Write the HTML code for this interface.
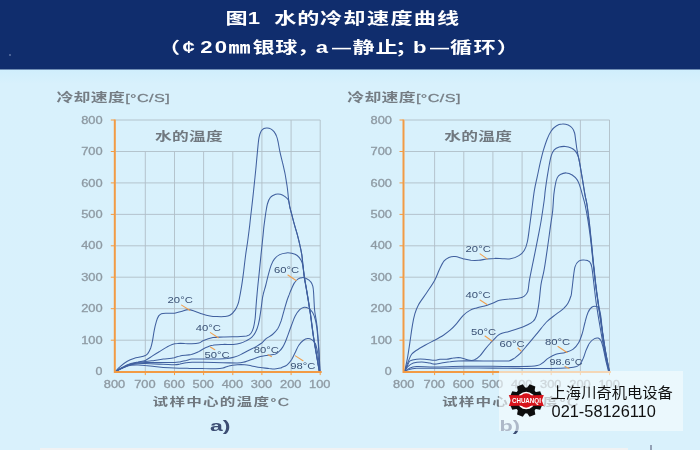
<!DOCTYPE html>
<html lang="zh"><head><meta charset="utf-8"><title>图1 水的冷却速度曲线</title>
<style>
html,body{margin:0;padding:0;}
body{width:700px;height:450px;overflow:hidden;background:linear-gradient(to bottom,#cfeefc 69px,#d8f1fc 84px,#d9f1fc 100%);position:relative;font-family:"Liberation Sans","Noto Sans CJK SC",sans-serif;}
svg{position:absolute;left:0;top:0;display:block;}
text{font-family:"Liberation Sans","Noto Sans CJK SC",sans-serif;}
.hdr{position:absolute;left:0;top:0;width:700px;height:68.6px;background:#102d6d;}
.hdrfade{position:absolute;left:0;top:68.5px;width:700px;height:1.5px;background:linear-gradient(#102d6d,#cfeefc);}
.strip{position:absolute;left:40px;top:448px;width:588px;height:2px;background:#f1f2f3;}
.mark{position:absolute;left:650px;top:445.4px;width:1.7px;height:5px;background:#93a1b6;filter:blur(0.3px);}
.dot{position:absolute;left:9.3px;top:54.4px;width:1.6px;height:1.6px;border-radius:1px;background:#5d73a3;}
.wm{position:absolute;left:499px;top:370.5px;width:184px;height:60px;background:rgba(246,251,254,0.62);}
</style></head><body>
<div class="hdr"></div><div class="hdrfade"></div>
<svg id="chart" width="700" height="450" viewBox="0 0 700 450">
<g id="hdrtext" fill="#ffffff" font-weight="700" style="filter:blur(0.3px)">
<text text-anchor="middle" transform="scale(1.380,1)" x="171.45 183.91 192.75 206.67 223.41 239.86 256.81 273.99 290.94 307.83 324.71" y="24.0" font-size="16.0" >图1 水的冷却速度曲线</text>
<text text-anchor="middle" transform="scale(1.380,1)" x="122.43 136.63 149.57 160.07 173.62 191.05 207.46 223.15 233.19 247.46 263.44 280.18 294.35 304.13 318.41 334.09 351.09 367.93" y="53.3" font-size="16.0" >（¢20㎜银球，a<tspan font-size="13.8" dy="-0.7">—</tspan><tspan dy="0.7">静止；b</tspan><tspan font-size="13.8" dy="-0.7">—</tspan><tspan dy="0.7">循环）</tspan></text>
</g>
<g id="blurred" style="filter:blur(0.35px)">
<g stroke="#b0bec7" stroke-width="0.9" fill="none">
<path d="M115.3 340.2 H320.2"/>
<path d="M115.3 308.7 H320.2"/>
<path d="M115.3 277.2 H320.2"/>
<path d="M115.3 245.8 H320.2"/>
<path d="M115.3 214.4 H320.2"/>
<path d="M115.3 182.9 H320.2"/>
<path d="M115.3 151.5 H320.2"/>
<path d="M115.3 120.0 H320.2"/>
<path d="M145.3 151.5 V372.6"/>
<path d="M174.5 151.5 V372.6"/>
<path d="M203.6 151.5 V372.6"/>
<path d="M232.8 151.5 V372.6"/>
<path d="M261.9 120.0 V372.6"/>
<path d="M291.1 120.0 V372.6"/>
<path d="M320.2 120.0 V372.6"/>
<path d="M404.6 340.2 H609.5"/>
<path d="M404.6 308.7 H609.5"/>
<path d="M404.6 277.2 H609.5"/>
<path d="M404.6 245.8 H609.5"/>
<path d="M404.6 214.4 H609.5"/>
<path d="M404.6 182.9 H609.5"/>
<path d="M404.6 151.5 H609.5"/>
<path d="M404.6 120.0 H609.5"/>
<path d="M434.6 151.5 V372.6"/>
<path d="M463.8 151.5 V372.6"/>
<path d="M492.9 151.5 V372.6"/>
<path d="M522.1 151.5 V372.6"/>
<path d="M551.2 120.0 V372.6"/>
<path d="M580.4 120.0 V372.6"/>
<path d="M609.5 120.0 V372.6"/>
</g>
<g fill="#757d84" font-weight="700">
<text transform="translate(56.4,101.9) scale(1.380,1)" font-size="12.2" textLength="82.1" lengthAdjust="spacing" >冷却速度<tspan font-weight="400" font-size="11.8" stroke="#757d84" stroke-width="0.25">[°C/S]</tspan></text>
<text transform="translate(347.2,101.9) scale(1.380,1)" font-size="12.2" textLength="82.1" lengthAdjust="spacing" >冷却速度<tspan font-weight="400" font-size="11.8" stroke="#757d84" stroke-width="0.25">[°C/S]</tspan></text>
</g>
<g fill="#70787f" font-weight="700">
<text transform="translate(154.9,140.6) scale(1.380,1)" font-size="12.1" textLength="49.1" lengthAdjust="spacing" >水的温度</text>
<text transform="translate(444.2,140.6) scale(1.380,1)" font-size="12.1" textLength="49.1" lengthAdjust="spacing" >水的温度</text>
<text transform="translate(152.6,405.6) scale(1.380,1)" font-size="11.3" textLength="98.8" lengthAdjust="spacing" >试样中心的温度<tspan font-weight="400" stroke="#757d84" stroke-width="0.25">°C</tspan></text>
<text transform="translate(441.9,405.6) scale(1.380,1)" font-size="11.3" textLength="98.8" lengthAdjust="spacing" >试样中心的温度<tspan font-weight="400" stroke="#757d84" stroke-width="0.25">°C</tspan></text>
</g>
<g fill="#3c4d73" font-weight="700">
<text x="210.0" y="430.5" font-size="15.5" textLength="20.5" lengthAdjust="spacingAndGlyphs" >a)</text>
<text x="499.5" y="430.5" font-size="15.5" textLength="20.5" lengthAdjust="spacingAndGlyphs" >b)</text>
</g>
<g fill="#8e9aa3" stroke="#8e9aa3" stroke-width="0.3">
<text x="95.5" y="375.2" font-size="10.0" textLength="6.9" lengthAdjust="spacingAndGlyphs" >0</text>
<text x="81.2" y="343.8" font-size="10.0" textLength="21.4" lengthAdjust="spacingAndGlyphs" >100</text>
<text x="81.2" y="312.3" font-size="10.0" textLength="21.4" lengthAdjust="spacingAndGlyphs" >200</text>
<text x="81.2" y="280.9" font-size="10.0" textLength="21.4" lengthAdjust="spacingAndGlyphs" >300</text>
<text x="81.2" y="249.4" font-size="10.0" textLength="21.4" lengthAdjust="spacingAndGlyphs" >400</text>
<text x="81.2" y="218.0" font-size="10.0" textLength="21.4" lengthAdjust="spacingAndGlyphs" >500</text>
<text x="81.2" y="186.5" font-size="10.0" textLength="21.4" lengthAdjust="spacingAndGlyphs" >600</text>
<text x="81.2" y="155.1" font-size="10.0" textLength="21.4" lengthAdjust="spacingAndGlyphs" >700</text>
<text x="81.2" y="123.6" font-size="10.0" textLength="21.4" lengthAdjust="spacingAndGlyphs" >800</text>
<text x="103.8" y="387.9" font-size="10.0" textLength="21.4" lengthAdjust="spacingAndGlyphs" >800</text>
<text x="134.2" y="387.9" font-size="10.0" textLength="21.4" lengthAdjust="spacingAndGlyphs" >700</text>
<text x="163.4" y="387.9" font-size="10.0" textLength="21.4" lengthAdjust="spacingAndGlyphs" >600</text>
<text x="192.5" y="387.9" font-size="10.0" textLength="21.4" lengthAdjust="spacingAndGlyphs" >500</text>
<text x="221.7" y="387.9" font-size="10.0" textLength="21.4" lengthAdjust="spacingAndGlyphs" >400</text>
<text x="250.8" y="387.9" font-size="10.0" textLength="21.4" lengthAdjust="spacingAndGlyphs" >300</text>
<text x="280.0" y="387.9" font-size="10.0" textLength="21.4" lengthAdjust="spacingAndGlyphs" >200</text>
<text x="309.1" y="387.9" font-size="10.0" textLength="21.4" lengthAdjust="spacingAndGlyphs" >100</text>
<text x="384.8" y="375.2" font-size="10.0" textLength="6.9" lengthAdjust="spacingAndGlyphs" >0</text>
<text x="370.5" y="343.8" font-size="10.0" textLength="21.4" lengthAdjust="spacingAndGlyphs" >100</text>
<text x="370.5" y="312.3" font-size="10.0" textLength="21.4" lengthAdjust="spacingAndGlyphs" >200</text>
<text x="370.5" y="280.9" font-size="10.0" textLength="21.4" lengthAdjust="spacingAndGlyphs" >300</text>
<text x="370.5" y="249.4" font-size="10.0" textLength="21.4" lengthAdjust="spacingAndGlyphs" >400</text>
<text x="370.5" y="218.0" font-size="10.0" textLength="21.4" lengthAdjust="spacingAndGlyphs" >500</text>
<text x="370.5" y="186.5" font-size="10.0" textLength="21.4" lengthAdjust="spacingAndGlyphs" >600</text>
<text x="370.5" y="155.1" font-size="10.0" textLength="21.4" lengthAdjust="spacingAndGlyphs" >700</text>
<text x="370.5" y="123.6" font-size="10.0" textLength="21.4" lengthAdjust="spacingAndGlyphs" >800</text>
<text x="393.1" y="387.9" font-size="10.0" textLength="21.4" lengthAdjust="spacingAndGlyphs" >800</text>
<text x="423.5" y="387.9" font-size="10.0" textLength="21.4" lengthAdjust="spacingAndGlyphs" >700</text>
<text x="452.7" y="387.9" font-size="10.0" textLength="21.4" lengthAdjust="spacingAndGlyphs" >600</text>
<text x="481.8" y="387.9" font-size="10.0" textLength="21.4" lengthAdjust="spacingAndGlyphs" >500</text>
<text x="511.0" y="387.9" font-size="10.0" textLength="21.4" lengthAdjust="spacingAndGlyphs" >400</text>
<text x="540.1" y="387.9" font-size="10.0" textLength="21.4" lengthAdjust="spacingAndGlyphs" >300</text>
<text x="569.3" y="387.9" font-size="10.0" textLength="21.4" lengthAdjust="spacingAndGlyphs" >200</text>
<text x="598.4" y="387.9" font-size="10.0" textLength="21.4" lengthAdjust="spacingAndGlyphs" >100</text>
</g>
<g stroke="#40609f" stroke-width="1.05" fill="none" stroke-linejoin="round" stroke-linecap="round">
<path d="M115.3 371.6C116.1 370.8 118.1 368.3 120.1 366.6C122.1 364.8 124.9 362.6 127.3 361.2C129.7 359.8 132.4 358.9 134.5 358.2C136.6 357.6 138.1 357.6 139.9 357.1C141.7 356.7 144.0 356.2 145.3 355.6C146.6 354.9 147.0 354.6 147.9 353.4C148.8 352.1 149.9 350.1 150.7 348.0C151.4 345.9 151.9 343.8 152.5 340.8C153.1 337.8 153.6 333.3 154.3 330.1C154.9 326.8 155.7 323.6 156.4 321.3C157.1 318.9 157.9 317.2 158.7 315.9C159.6 314.7 160.0 314.2 161.4 313.7C162.7 313.3 164.7 313.3 166.9 313.2C169.1 313.1 172.1 313.5 174.5 313.2C176.9 312.9 178.9 312.1 181.2 311.5C183.5 310.9 185.8 309.6 188.2 309.6C190.6 309.6 193.1 310.8 195.5 311.5C197.8 312.3 200.0 313.3 202.4 314.0C204.9 314.8 207.6 315.5 210.0 315.9C212.5 316.4 214.7 316.5 217.0 316.6C219.4 316.7 221.9 316.8 224.0 316.6C226.2 316.4 228.0 316.5 229.9 315.3C231.8 314.2 234.1 311.5 235.4 309.6C236.8 307.8 237.4 305.7 238.0 304.0C238.7 302.3 238.6 302.1 239.2 299.3C239.8 296.4 240.8 291.2 241.5 286.7C242.3 282.1 242.9 277.1 243.6 271.9C244.2 266.7 244.9 260.6 245.6 255.2C246.3 249.8 247.3 244.5 247.9 239.5C248.6 234.5 249.1 230.1 249.7 225.4C250.2 220.6 250.7 215.9 251.3 211.2C251.8 206.5 252.4 201.8 252.9 197.1C253.4 192.3 253.9 187.9 254.4 182.9C254.9 177.9 255.5 172.7 256.0 167.2C256.5 161.7 257.1 154.8 257.6 149.9C258.1 145.0 258.4 140.8 259.0 137.6C259.6 134.5 260.4 132.5 261.2 131.0C262.1 129.5 262.9 129.0 263.9 128.5C264.9 128.0 266.1 127.9 267.2 128.0C268.4 128.1 269.5 128.3 270.7 128.9C271.8 129.5 273.0 130.4 274.0 131.6C275.0 132.9 275.9 134.5 276.6 136.4C277.4 138.2 277.7 140.3 278.3 143.0C278.8 145.6 279.3 148.9 280.0 152.2C280.7 155.6 281.8 159.4 282.6 162.9C283.5 166.4 284.3 170.4 285.0 173.5C285.6 176.5 285.9 178.7 286.3 181.3C286.8 183.9 287.2 186.3 287.5 189.2C287.9 192.1 288.1 195.7 288.5 198.6C288.8 201.5 289.1 203.8 289.7 206.5C290.2 209.2 290.9 211.4 291.8 214.7C292.6 218.0 293.9 222.8 294.9 226.3C295.8 229.8 296.7 232.3 297.5 235.4C298.3 238.5 299.1 241.6 299.8 244.9C300.5 248.1 301.3 251.6 301.8 254.9C302.3 258.3 302.4 261.3 302.9 265.0C303.3 268.7 303.8 273.0 304.4 277.2C305.0 281.5 306.0 286.1 306.7 290.6C307.4 295.0 308.2 299.9 308.9 304.0C309.5 308.1 309.9 309.7 310.6 315.0C311.3 320.2 312.4 329.0 313.3 335.4C314.2 341.8 315.3 347.3 316.3 353.4C317.3 359.4 318.8 368.6 319.3 371.6"/>
<path d="M115.3 371.6C116.7 370.8 121.1 367.9 123.7 366.6C126.3 365.2 128.5 364.4 130.9 363.6C133.3 362.8 135.7 362.4 138.1 361.9C140.5 361.3 142.9 361.4 145.3 360.4C147.7 359.4 150.1 357.4 152.5 355.9C154.8 354.4 157.2 352.9 159.6 351.5C162.0 350.0 164.7 348.3 166.8 347.1C168.9 345.9 170.4 345.0 172.2 344.4C174.0 343.8 175.4 343.6 177.5 343.5C179.6 343.3 182.3 343.4 184.7 343.5C187.1 343.5 189.4 343.9 191.8 343.8C194.2 343.8 197.0 343.7 198.9 343.1C200.9 342.6 201.3 341.4 203.6 340.5C205.9 339.5 209.7 338.2 212.9 337.6C216.2 337.1 219.1 337.2 223.2 337.0C227.2 336.8 233.6 336.8 237.5 336.7C241.3 336.5 244.2 336.6 246.5 336.1C248.7 335.5 249.7 335.0 250.8 333.5C252.0 332.1 252.8 330.0 253.5 327.6C254.2 325.1 254.6 322.4 255.1 318.8C255.5 315.1 255.8 309.5 256.1 305.6C256.4 301.6 256.5 300.0 257.0 294.9C257.4 289.7 258.3 281.5 259.0 274.9C259.7 268.2 260.3 261.6 261.0 254.9C261.7 248.3 262.6 239.6 263.1 234.9C263.6 230.2 263.5 230.2 263.9 226.6C264.4 223.0 265.1 217.2 265.7 213.4C266.3 209.6 266.7 206.6 267.4 204.0C268.2 201.3 269.0 199.0 270.4 197.4C271.7 195.8 274.0 194.9 275.7 194.3C277.4 193.8 278.8 193.9 280.4 194.3C282.0 194.7 283.7 195.8 285.1 196.7C286.4 197.7 287.7 198.5 288.5 200.2C289.3 201.9 289.3 204.5 289.8 206.9C290.4 209.4 291.0 211.7 291.9 215.0C292.7 218.3 294.0 223.2 295.0 226.6C296.0 230.1 296.8 232.6 297.6 235.7C298.4 238.8 299.2 241.9 299.9 245.2C300.7 248.4 301.4 251.9 301.9 255.2C302.4 258.6 302.6 261.6 303.0 265.3C303.4 269.0 303.9 273.3 304.5 277.6C305.2 281.8 306.1 286.4 306.8 290.9C307.6 295.4 308.3 300.2 309.0 304.3C309.6 308.4 310.0 310.1 310.7 315.3C311.5 320.5 312.5 329.4 313.4 335.7C314.4 342.1 315.4 347.7 316.4 353.7C317.4 359.6 318.9 368.6 319.4 371.6"/>
<path d="M115.3 371.6C116.7 370.8 121.1 368.1 123.7 366.9C126.3 365.6 128.5 364.8 130.9 364.1C133.3 363.3 135.7 362.9 138.1 362.5C140.5 362.1 142.6 362.0 145.3 361.6C148.0 361.3 151.4 360.8 154.4 360.4C157.3 360.0 159.9 359.6 163.2 359.1C166.5 358.7 171.5 358.3 174.3 357.8C177.1 357.2 177.2 356.4 180.0 355.9C182.9 355.3 188.3 355.2 191.4 354.5C194.5 353.7 196.6 352.6 198.7 351.6C200.7 350.6 201.9 349.6 203.6 348.7C205.3 347.9 207.1 347.2 208.6 346.6C210.2 346.0 210.5 345.5 212.9 345.2C215.3 344.8 219.7 344.6 223.0 344.4C226.4 344.3 230.2 344.6 233.1 344.4C236.0 344.2 238.1 343.9 240.2 343.3C242.4 342.7 244.1 341.9 246.0 340.9C247.9 339.9 250.1 338.8 251.7 337.3C253.3 335.9 254.4 334.4 255.5 332.3C256.6 330.1 257.6 327.6 258.4 324.4C259.2 321.3 259.9 317.1 260.4 313.4C261.0 309.7 261.5 305.5 261.9 302.4C262.3 299.3 262.4 297.7 263.1 294.9C263.7 292.0 264.8 288.9 265.7 285.5C266.6 282.2 267.4 278.2 268.3 274.9C269.2 271.5 270.0 268.3 271.0 265.6C272.0 262.9 273.0 260.7 274.5 258.9C275.9 257.0 277.7 255.6 279.7 254.6C281.7 253.6 284.4 253.1 286.4 252.9C288.4 252.7 290.0 252.9 291.8 253.3C293.6 253.8 295.7 254.4 297.2 255.5C298.8 256.7 300.2 258.6 301.1 260.3C302.0 261.9 302.3 262.4 302.8 265.3C303.3 268.2 303.7 273.3 304.3 277.6C304.9 281.8 305.9 286.4 306.6 290.9C307.4 295.4 308.1 300.2 308.8 304.3C309.4 308.4 309.8 310.1 310.5 315.3C311.2 320.5 312.3 329.4 313.2 335.7C314.2 342.1 315.2 347.7 316.2 353.7C317.2 359.6 318.8 368.6 319.3 371.6"/>
<path d="M115.3 371.6C116.7 370.9 121.1 368.4 123.7 367.2C126.3 366.0 128.5 365.2 130.9 364.5C133.3 363.8 135.7 363.4 138.1 363.1C140.5 362.8 141.7 362.6 145.3 362.5C148.9 362.4 155.1 362.5 159.9 362.5C164.7 362.5 171.0 362.6 174.3 362.5C177.7 362.4 178.0 362.2 180.0 361.9C182.0 361.5 184.5 360.8 186.4 360.4C188.4 359.9 189.7 359.4 191.8 359.1C193.9 358.9 195.9 359.0 198.9 359.0C202.0 358.9 207.2 358.9 210.0 359.0C212.8 359.0 213.0 359.1 215.9 359.0C218.7 358.9 224.2 358.8 227.3 358.5C230.5 358.1 232.2 357.7 234.5 357.0C236.9 356.3 239.3 355.3 241.7 354.1C244.1 353.0 246.5 351.5 248.9 350.2C251.3 349.0 253.9 347.8 256.1 346.6C258.2 345.4 260.1 344.3 261.8 343.0C263.4 341.7 264.3 340.2 266.1 338.7C267.9 337.3 270.6 336.1 272.5 334.5C274.5 332.8 276.2 331.1 277.7 328.8C279.1 326.5 280.1 323.7 281.2 320.7C282.2 317.6 283.1 313.6 284.1 310.3C285.1 306.9 286.2 303.1 287.0 300.5C287.8 298.0 288.3 296.9 289.1 294.9C289.8 292.8 290.9 290.2 291.8 288.3C292.7 286.3 293.4 284.4 294.4 282.9C295.5 281.4 296.5 280.0 297.8 279.1C299.1 278.2 301.0 277.6 302.4 277.6C303.9 277.5 305.3 278.1 306.7 278.8C308.1 279.5 309.6 280.4 310.6 281.7C311.6 282.9 312.3 284.2 312.8 286.1C313.3 287.9 313.4 289.8 313.6 292.8C313.8 295.8 314.0 300.8 314.2 304.0C314.4 307.2 314.3 308.1 314.8 311.8C315.3 315.6 316.5 321.2 317.1 326.6C317.7 332.0 318.1 338.4 318.6 344.4C319.0 350.3 319.4 357.6 319.6 362.2C319.9 366.7 320.0 370.0 320.1 371.6"/>
<path d="M115.3 371.6C116.7 370.9 121.1 368.5 123.7 367.4C126.3 366.2 128.5 365.4 130.9 364.8C133.3 364.2 135.7 363.9 138.1 363.7C140.5 363.5 141.1 363.5 145.3 363.6C149.5 363.7 158.3 364.1 163.2 364.3C168.1 364.5 171.7 364.9 174.5 364.8C177.3 364.8 178.1 364.4 180.0 364.1C182.0 363.7 184.2 363.1 186.1 362.8C188.1 362.5 189.0 362.4 192.0 362.3C194.9 362.2 198.4 362.3 203.6 362.3C208.8 362.4 217.4 362.6 223.0 362.7C228.7 362.8 234.1 363.1 237.5 363.0C240.8 362.9 241.2 362.8 243.1 362.3C245.0 361.9 246.9 361.1 248.9 360.4C250.8 359.8 252.7 359.1 254.6 358.5C256.5 357.8 258.4 357.1 260.3 356.6C262.2 356.1 264.2 355.9 266.1 355.6C268.0 355.3 270.2 355.0 271.8 354.7C273.4 354.5 274.4 354.7 275.6 354.1C276.8 353.6 277.9 352.7 279.1 351.5C280.3 350.3 281.7 348.7 282.7 347.1C283.8 345.4 284.5 343.8 285.4 341.7C286.3 339.6 287.0 337.4 288.1 334.6C289.1 331.8 290.5 327.9 291.7 324.8C292.9 321.7 293.8 318.5 295.2 315.9C296.5 313.4 298.2 311.1 299.7 309.6C301.2 308.2 302.7 307.6 304.2 307.3C305.7 307.1 307.2 307.6 308.6 308.4C309.9 309.2 311.3 310.5 312.5 312.3C313.6 314.2 314.5 316.5 315.3 319.5C316.1 322.4 316.6 326.0 317.1 330.1C317.6 334.3 318.0 339.6 318.3 344.4C318.7 349.1 319.0 354.1 319.2 358.6C319.4 363.2 319.7 369.4 319.8 371.6"/>
<path d="M115.3 371.6C116.7 370.9 121.1 368.6 123.7 367.5C126.3 366.5 128.5 365.7 130.9 365.3C133.3 364.9 135.7 365.0 138.1 365.0C140.5 365.0 142.6 365.1 145.3 365.4C148.0 365.6 151.4 366.3 154.4 366.6C157.3 367.0 159.9 367.3 163.2 367.5C166.5 367.7 169.9 367.9 174.3 368.0C178.8 368.2 185.2 368.3 190.0 368.4C194.9 368.5 199.3 368.4 203.6 368.5C207.9 368.5 212.6 368.8 215.9 368.8C219.1 368.7 220.9 368.5 223.0 368.0C225.2 367.5 226.4 366.4 228.8 365.9C231.2 365.3 234.8 364.9 237.5 364.7C240.1 364.6 242.2 364.6 244.6 364.7C246.9 364.9 249.1 365.4 251.7 365.9C254.3 366.4 257.5 367.2 260.3 367.6C263.2 368.0 266.5 368.2 268.9 368.5C271.3 368.7 272.8 369.0 274.7 368.9C276.7 368.9 279.3 368.4 280.4 368.1C281.6 367.9 280.7 368.1 281.8 367.5C282.9 367.0 285.5 366.2 287.2 364.8C288.8 363.5 290.3 361.6 291.7 359.5C293.0 357.4 294.0 354.8 295.2 352.4C296.4 350.0 297.4 347.2 298.8 345.2C300.1 343.3 301.7 341.6 303.2 340.5C304.7 339.4 306.2 338.7 307.7 338.6C309.2 338.5 310.8 339.1 312.1 339.9C313.4 340.7 314.4 341.6 315.3 343.5C316.2 345.4 316.8 348.4 317.4 351.5C318.0 354.6 318.5 358.8 318.9 362.2C319.2 365.5 319.6 370.0 319.8 371.6"/>
<path d="M404.6 371.6C405.1 369.4 406.5 363.4 407.4 358.4C408.3 353.4 409.2 347.2 410.0 341.7C410.8 336.2 411.6 330.0 412.4 325.4C413.2 320.7 413.9 317.1 414.9 313.7C415.9 310.3 416.5 308.4 418.4 304.9C420.3 301.5 423.8 297.0 426.5 293.0C429.2 288.9 432.5 284.4 434.6 280.5C436.7 276.6 437.8 273.0 439.3 269.7C440.9 266.4 442.5 262.9 444.1 260.9C445.7 258.9 447.1 258.2 448.9 257.4C450.8 256.7 452.8 256.4 455.1 256.6C457.5 256.8 460.4 258.1 463.0 258.7C465.6 259.3 468.2 260.0 470.9 260.3C473.5 260.5 476.1 260.5 478.8 260.3C481.4 260.1 484.0 259.3 486.6 259.0C489.2 258.7 491.9 258.4 494.5 258.4C497.1 258.3 499.7 258.6 502.4 258.7C505.0 258.8 507.7 259.3 510.4 258.8C513.2 258.3 516.6 257.0 518.9 255.6C521.2 254.3 522.8 252.8 524.2 250.5C525.6 248.2 526.5 245.9 527.3 242.0C528.2 238.2 528.8 232.6 529.5 227.3C530.2 222.1 530.9 216.7 531.7 210.6C532.5 204.5 533.4 196.5 534.3 190.9C535.2 185.3 536.2 181.6 537.2 176.9C538.2 172.3 539.2 167.3 540.2 162.9C541.2 158.6 542.1 154.9 543.2 150.9C544.4 147.0 545.9 142.3 547.2 139.0C548.5 135.6 549.7 133.2 551.2 131.0C552.7 128.8 554.3 127.1 556.2 126.0C558.0 124.8 560.3 124.2 562.3 124.1C564.3 123.9 566.5 124.4 568.2 125.0C569.8 125.7 571.2 126.7 572.2 128.0C573.3 129.3 574.0 130.8 574.6 133.0C575.2 135.2 575.3 138.1 575.8 141.1C576.2 144.1 576.5 147.3 577.2 150.9C577.8 154.6 578.8 158.3 579.7 162.9C580.5 167.6 581.4 173.6 582.3 178.9C583.2 184.2 584.1 190.5 584.9 194.9C585.7 199.2 586.2 200.1 586.9 204.9C587.7 209.7 588.5 217.0 589.3 223.8C590.1 230.6 590.9 238.5 591.6 245.8C592.4 253.1 592.9 260.0 593.8 267.8C594.6 275.7 595.5 284.1 596.7 293.0C597.9 301.9 599.4 311.8 600.8 321.3C602.2 330.7 603.7 341.2 605.1 349.6C606.5 358.0 608.5 367.9 609.2 371.6"/>
<path d="M404.6 371.6C405.2 369.9 407.0 364.5 408.2 361.7C409.4 358.8 410.2 356.2 411.6 354.3C413.0 352.4 414.4 351.7 416.6 350.2C418.8 348.7 422.0 346.9 425.0 345.2C428.0 343.5 431.5 341.8 434.6 340.2C437.7 338.5 440.8 336.8 443.4 335.2C445.9 333.5 447.9 332.1 450.1 330.2C452.3 328.3 454.4 326.1 456.6 323.6C458.8 321.1 461.1 317.5 463.3 315.3C465.5 313.1 467.7 311.6 469.9 310.4C472.1 309.1 474.4 308.6 476.6 307.9C478.8 307.2 481.6 306.6 483.3 306.2C485.0 305.8 484.9 305.9 486.6 305.4C488.2 304.9 491.0 303.9 493.2 303.0C495.4 302.2 497.0 300.9 499.6 300.2C502.2 299.5 505.8 299.3 509.0 299.0C512.1 298.6 515.8 298.7 518.3 298.3C520.8 297.9 522.4 297.5 524.0 296.4C525.6 295.3 526.8 294.5 527.7 291.7C528.7 288.9 528.5 285.3 529.5 279.8C530.5 274.3 532.3 265.8 533.7 258.8C535.1 251.8 536.7 244.2 537.9 237.9C539.1 231.6 540.0 227.3 541.1 221.0C542.1 214.8 543.5 205.2 544.2 200.2C544.9 195.2 544.7 194.8 545.2 190.9C545.7 187.0 546.5 181.2 547.2 176.9C547.9 172.6 548.6 168.5 549.2 165.0C549.9 161.5 550.4 158.5 551.2 155.9C552.0 153.4 552.9 151.4 554.2 149.9C555.5 148.5 557.4 147.6 559.2 147.0C561.0 146.5 563.2 146.3 565.2 146.4C567.2 146.6 569.5 147.2 571.2 148.0C572.9 148.7 574.1 149.6 575.2 150.9C576.3 152.3 577.3 154.0 578.1 156.2C578.8 158.3 579.1 160.1 579.8 164.0C580.6 168.0 581.7 174.5 582.6 179.8C583.5 185.0 584.4 191.2 585.2 195.5C586.0 199.8 586.5 200.7 587.2 205.5C588.0 210.4 588.8 217.6 589.6 224.4C590.3 231.2 591.1 239.1 591.9 246.4C592.6 253.8 593.2 260.6 594.1 268.4C594.9 276.3 595.8 284.7 597.0 293.6C598.2 302.5 599.7 312.5 601.1 321.9C602.5 331.3 604.0 341.9 605.4 350.2C606.8 358.5 608.7 368.0 609.4 371.6"/>
<path d="M404.6 371.6C405.1 370.6 406.7 367.1 407.6 365.3C408.5 363.5 408.5 361.9 410.0 360.9C411.5 359.9 414.1 359.5 416.6 359.2C419.1 358.9 422.0 359.0 425.0 359.2C428.0 359.4 432.1 360.3 434.6 360.3C437.1 360.3 437.9 359.4 439.9 359.2C441.9 359.0 444.3 359.4 446.6 359.2C448.8 359.0 451.3 358.3 453.3 358.1C455.2 357.8 456.6 357.5 458.3 357.5C459.9 357.6 461.4 357.9 463.3 358.4C465.2 358.9 468.0 360.1 469.9 360.3C471.9 360.6 473.3 360.4 474.9 359.6C476.6 358.9 478.2 357.6 479.9 355.9C481.6 354.1 483.4 351.3 485.0 349.3C486.7 347.2 488.6 345.0 490.0 343.5C491.3 341.9 491.6 341.7 493.2 340.2C494.8 338.6 497.0 335.7 499.6 334.3C502.2 332.8 505.8 332.4 509.0 331.4C512.1 330.5 515.2 329.7 518.3 328.6C521.4 327.5 525.2 326.1 527.7 324.8C530.3 323.5 532.0 322.5 533.4 321.0C534.9 319.6 535.4 318.3 536.2 316.2C537.0 314.2 537.6 311.5 538.1 308.7C538.6 305.9 538.9 303.4 539.4 299.3C539.9 295.1 540.3 288.9 541.1 283.9C541.9 279.0 543.2 275.3 544.2 269.4C545.3 263.4 546.3 255.7 547.4 248.3C548.5 241.0 549.7 231.6 550.6 225.4C551.5 219.1 552.1 215.7 552.7 210.6C553.2 205.5 553.4 199.1 553.8 194.9C554.3 190.6 554.7 187.7 555.3 184.9C555.8 182.1 556.4 179.6 557.2 177.9C558.0 176.1 558.7 175.3 560.3 174.5C561.8 173.7 564.2 172.8 566.2 172.9C568.2 173.0 570.4 173.9 572.2 175.0C574.1 176.2 575.9 178.1 577.2 179.9C578.5 181.7 578.9 183.4 579.8 185.9C580.7 188.4 581.6 191.7 582.4 194.9C583.3 198.0 584.1 200.6 585.1 204.9C586.0 209.2 587.0 214.4 588.0 220.6C589.0 226.9 590.1 235.1 591.0 242.7C591.9 250.3 592.5 257.9 593.5 266.2C594.4 274.6 595.5 283.8 596.7 293.0C597.9 302.1 599.4 311.8 600.8 321.3C602.2 330.7 603.7 341.2 605.1 349.6C606.6 358.0 608.7 367.9 609.4 371.6"/>
<path d="M404.6 371.6C405.1 370.8 406.2 368.3 407.6 366.9C409.1 365.5 410.9 363.9 413.3 363.1C415.7 362.3 418.9 362.0 421.7 362.0C424.5 362.0 427.8 362.8 429.9 363.1C432.1 363.5 432.7 364.1 434.6 364.1C436.5 364.1 439.0 363.5 441.6 363.1C444.2 362.7 447.3 362.0 450.1 361.7C452.9 361.3 452.7 361.0 458.3 360.9C463.8 360.8 476.4 360.9 483.3 360.9C490.2 360.9 495.3 360.9 499.6 360.9C503.9 360.9 506.5 361.4 509.0 360.9C511.5 360.4 512.7 359.3 514.6 358.1C516.4 356.8 518.0 355.6 520.2 353.4C522.4 351.1 524.9 348.0 527.7 344.7C530.6 341.4 534.1 337.1 537.2 333.3C540.4 329.5 543.4 325.1 546.5 322.0C549.7 318.8 553.1 316.6 555.9 314.4C558.7 312.1 561.4 310.6 563.5 308.7C565.5 306.8 566.9 305.2 568.1 303.0C569.4 300.8 570.4 297.7 571.1 295.5C571.7 293.3 571.3 294.5 571.9 289.8C572.6 285.1 573.7 272.0 574.9 267.2C576.1 262.4 577.6 262.1 579.2 260.9C580.8 259.7 582.7 259.8 584.5 260.0C586.2 260.1 588.5 260.7 589.7 261.9C590.9 263.1 591.1 263.5 591.8 267.2C592.5 270.9 593.2 278.1 593.9 283.9C594.6 289.8 595.1 295.1 596.1 302.4C597.2 309.7 598.7 319.2 600.2 327.6C601.6 336.0 603.3 345.4 604.8 352.7C606.3 360.1 608.5 368.5 609.2 371.6"/>
<path d="M404.6 371.6C405.4 371.1 407.1 369.3 409.1 368.5C411.1 367.6 412.4 366.9 416.6 366.6C420.9 366.4 426.7 367.0 434.6 367.0C442.5 366.9 454.1 366.4 463.8 366.3C473.5 366.2 483.2 366.3 492.9 366.3C502.6 366.4 514.7 366.7 522.1 366.6C529.5 366.5 533.8 366.3 537.2 365.6C540.7 365.0 540.9 364.1 542.8 362.8C544.6 361.5 546.2 359.5 548.4 358.1C550.6 356.7 553.1 355.2 555.9 354.3C558.7 353.4 562.5 353.2 565.3 352.4C568.2 351.6 570.6 351.0 572.9 349.4C575.1 347.8 577.1 345.5 578.6 342.8C580.2 340.1 581.2 336.8 582.3 333.3C583.4 329.9 584.1 325.4 585.1 322.0C586.0 318.5 586.9 314.9 588.0 312.5C589.1 310.0 590.3 308.2 591.7 307.2C593.2 306.2 595.2 306.2 596.4 306.5C597.6 306.8 598.4 306.8 599.2 308.7C599.9 310.6 600.4 313.4 601.1 318.1C601.7 322.9 602.1 330.8 602.9 337.1C603.7 343.5 604.7 350.4 605.7 356.2C606.7 361.9 608.4 369.0 608.9 371.6"/>
<path d="M404.6 371.6C405.4 371.2 407.1 369.9 409.1 369.4C411.1 368.8 412.4 368.5 416.6 368.3C420.9 368.1 426.7 368.4 434.6 368.3C442.5 368.2 454.1 368.0 463.8 368.0C473.5 368.0 483.2 368.1 492.9 368.1C502.6 368.2 512.4 368.4 522.1 368.5C531.8 368.5 543.4 368.6 551.2 368.5C559.0 368.4 564.9 368.1 569.1 367.8C573.3 367.5 574.7 367.2 576.6 366.6C578.5 365.9 579.3 365.2 580.4 363.7C581.5 362.3 582.4 360.3 583.3 358.1C584.3 355.8 585.0 352.9 586.0 350.4C587.1 347.8 588.4 344.7 589.8 342.8C591.2 340.8 593.1 339.4 594.5 338.6C595.9 337.9 597.1 337.7 598.2 338.1C599.3 338.5 600.3 339.5 601.1 340.9C601.8 342.3 602.1 343.4 602.9 346.6C603.7 349.8 604.8 355.8 605.7 360.0C606.7 364.1 608.1 369.7 608.6 371.6"/>
</g>
<g stroke="#f29b44" fill="none">
<path d="M114.8 119.5 V371.9 H321.7" stroke-width="2.0" fill="none"/>
<path d="M110.8 340.2 H114.8" stroke-width="1"/>
<path d="M110.8 308.7 H114.8" stroke-width="1"/>
<path d="M110.8 277.2 H114.8" stroke-width="1"/>
<path d="M110.8 245.8 H114.8" stroke-width="1"/>
<path d="M110.8 214.4 H114.8" stroke-width="1"/>
<path d="M110.8 182.9 H114.8" stroke-width="1"/>
<path d="M110.8 151.5 H114.8" stroke-width="1"/>
<path d="M110.8 120.0 H114.8" stroke-width="1"/>
<path d="M145.3 371.6 V375.1" stroke-width="1"/>
<path d="M174.5 371.6 V375.1" stroke-width="1"/>
<path d="M203.6 371.6 V375.1" stroke-width="1"/>
<path d="M232.8 371.6 V375.1" stroke-width="1"/>
<path d="M261.9 371.6 V375.1" stroke-width="1"/>
<path d="M291.1 371.6 V375.1" stroke-width="1"/>
<path d="M320.2 371.6 V375.1" stroke-width="1"/>
<path d="M403.5 119.5 V371.9 H611.0" stroke-width="2.0" fill="none"/>
<path d="M399.5 340.2 H403.5" stroke-width="1"/>
<path d="M399.5 308.7 H403.5" stroke-width="1"/>
<path d="M399.5 277.2 H403.5" stroke-width="1"/>
<path d="M399.5 245.8 H403.5" stroke-width="1"/>
<path d="M399.5 214.4 H403.5" stroke-width="1"/>
<path d="M399.5 182.9 H403.5" stroke-width="1"/>
<path d="M399.5 151.5 H403.5" stroke-width="1"/>
<path d="M399.5 120.0 H403.5" stroke-width="1"/>
<path d="M434.6 371.6 V375.1" stroke-width="1"/>
<path d="M463.8 371.6 V375.1" stroke-width="1"/>
<path d="M492.9 371.6 V375.1" stroke-width="1"/>
<path d="M522.1 371.6 V375.1" stroke-width="1"/>
<path d="M551.2 371.6 V375.1" stroke-width="1"/>
<path d="M580.4 371.6 V375.1" stroke-width="1"/>
<path d="M609.5 371.6 V375.1" stroke-width="1"/>
</g>
<g stroke="#f0a050" stroke-width="1.1" fill="none" stroke-linecap="round">
<path d="M181.6 305.1 L189.8 310.3"/>
<path d="M210.4 332.6 L218.3 337.7"/>
<path d="M210.4 347.0 L214.8 349.7"/>
<path d="M287.9 275.0 L296.1 280.5"/>
<path d="M268.0 354.8 L271.4 356.6"/>
<path d="M295.4 355.9 L303.0 360.7"/>
<path d="M480.1 253.9 L487.2 258.9"/>
<path d="M480.0 300.0 L487.0 304.5"/>
<path d="M485.0 336.0 L492.0 341.0"/>
<path d="M518.0 348.0 L521.0 351.0"/>
<path d="M558.0 346.5 L567.0 352.5"/>
<path d="M565.0 366.5 L569.0 368.5"/>
</g>
<g fill="#3a5175">
<text x="167.6" y="303.2" font-size="9.9" textLength="25.2" lengthAdjust="spacingAndGlyphs" >20°C</text>
<text x="195.7" y="330.5" font-size="9.9" textLength="25.2" lengthAdjust="spacingAndGlyphs" >40°C</text>
<text x="204.4" y="358.0" font-size="9.9" textLength="25.2" lengthAdjust="spacingAndGlyphs" >50°C</text>
<text x="273.9" y="273.0" font-size="9.9" textLength="25.2" lengthAdjust="spacingAndGlyphs" >60°C</text>
<text x="253.7" y="352.9" font-size="9.9" textLength="25.2" lengthAdjust="spacingAndGlyphs" >80°C</text>
<text x="290.2" y="369.0" font-size="9.9" textLength="25.2" lengthAdjust="spacingAndGlyphs" >98°C</text>
<text x="465.6" y="252.1" font-size="9.9" textLength="25.2" lengthAdjust="spacingAndGlyphs" >20°C</text>
<text x="465.4" y="298.1" font-size="9.9" textLength="25.2" lengthAdjust="spacingAndGlyphs" >40°C</text>
<text x="470.9" y="334.5" font-size="9.9" textLength="25.2" lengthAdjust="spacingAndGlyphs" >50°C</text>
<text x="499.4" y="347.0" font-size="9.9" textLength="25.2" lengthAdjust="spacingAndGlyphs" >60°C</text>
<text x="544.9" y="345.0" font-size="9.9" textLength="25.2" lengthAdjust="spacingAndGlyphs" >80°C</text>
<text x="549.5" y="365.0" font-size="9.9" textLength="33.0" lengthAdjust="spacingAndGlyphs" >98.6°C</text>
</g>
</g>
</svg>
<div class="strip"></div><div class="mark"></div><div class="dot"></div>
<div class="wm"></div>
<svg id="wmsvg" width="700" height="450" viewBox="0 0 700 450">
<g id="gear" transform="translate(526.2,400.5)">
<g fill="#0d0d0d">
<circle r="12.9"/>
<g transform="rotate(22.5)">
<path id="tooth" d="M-4.3 -11 L-3.1 -16.4 L3.1 -16.4 L4.3 -11 Z"/>
<path d="M-4.3 -11 L-3.1 -16.4 L3.1 -16.4 L4.3 -11 Z" transform="rotate(45)"/>
<path d="M-4.3 -11 L-3.1 -16.4 L3.1 -16.4 L4.3 -11 Z" transform="rotate(90)"/>
<path d="M-4.3 -11 L-3.1 -16.4 L3.1 -16.4 L4.3 -11 Z" transform="rotate(135)"/>
<path d="M-4.3 -11 L-3.1 -16.4 L3.1 -16.4 L4.3 -11 Z" transform="rotate(180)"/>
<path d="M-4.3 -11 L-3.1 -16.4 L3.1 -16.4 L4.3 -11 Z" transform="rotate(225)"/>
<path d="M-4.3 -11 L-3.1 -16.4 L3.1 -16.4 L4.3 -11 Z" transform="rotate(270)"/>
<path d="M-4.3 -11 L-3.1 -16.4 L3.1 -16.4 L4.3 -11 Z" transform="rotate(315)"/>
</g>
</g>
<circle r="8.8" fill="#fff"/>
<circle r="7.2" fill="#d8141c"/>
<path d="M-17.4 -5.5 Q0 -4.6 17.6 -5.5 L15.6 0 L17.6 5.4 Q0 4.6 -17.4 5.4 L-15.4 0 Z" fill="#d8141c"/>
<text x="-14.3" y="2.6" font-size="7.2" font-weight="700" fill="#fff" textLength="29" lengthAdjust="spacingAndGlyphs">CHUANQI</text>
</g>
<g fill="#111">
<text x="550.6" y="397.5" font-size="15.0" textLength="122.2" lengthAdjust="spacingAndGlyphs" >上海川奇机电设备</text>
<text x="551.6" y="417.0" font-size="15.8" textLength="104.2" lengthAdjust="spacingAndGlyphs" >021-58126110</text>
</g>
</svg>
</body></html>
